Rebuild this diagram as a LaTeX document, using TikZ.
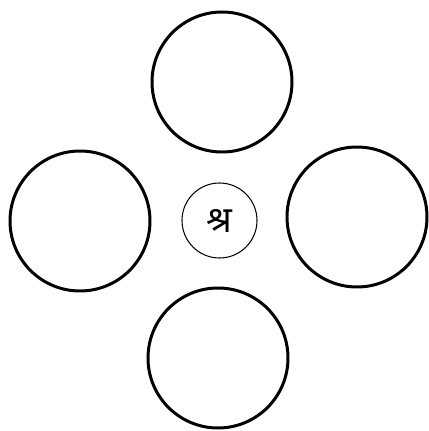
\documentclass[tikz,border=0pt]{standalone}
\usepackage{fontspec}
\newfontfamily\devafont[Script=Devanagari]{Noto Sans}
\usepackage{tikz}
\usetikzlibrary{positioning}

\begin{document}
\begin{tikzpicture}[
				% Styles des cercles
				grandCercle/.style={draw=black, circle, line width=1.7pt, minimum size=2.8cm, inner sep=0pt},
				petitCercle/.style={draw=black, circle, line width=0.6pt, minimum size=1.5cm, inner sep=0pt, font=\devafont\huge},
				]
				
				\useasboundingbox (0,0) rectangle (8.58,8.62);
				
				
				\node[petitCercle] (centre) at (4.39, 4.21) {श्र};
				
				
				\node[grandCercle] (haut) at (4.44, 6.98) {};
				\node[grandCercle] (gauche) at (1.60, 4.20) {};
				\node[grandCercle] (droite) at (7.14, 4.28) {};
				\node[grandCercle] (bas) at (4.36, 1.46) {};
				
			\end{tikzpicture}
\end{document}
